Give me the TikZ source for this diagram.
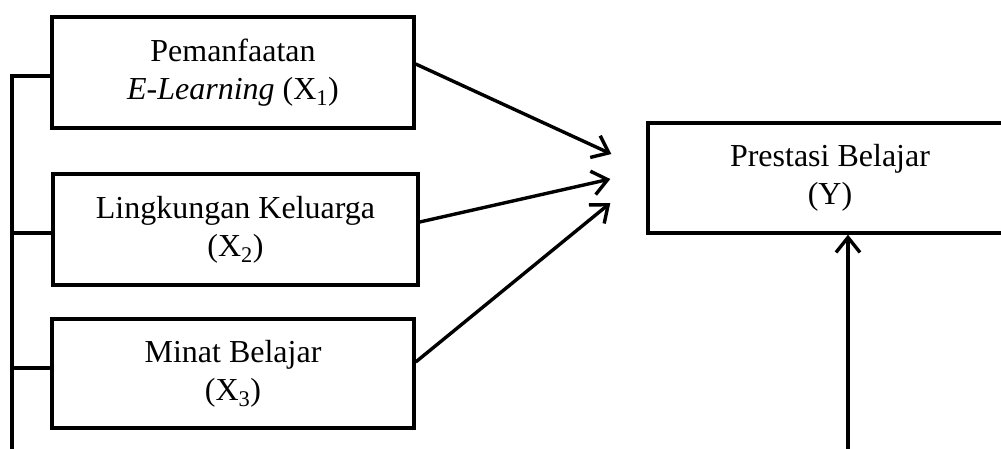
\documentclass[tikz,border=0pt]{standalone}
\usepackage{fontspec}
\setmainfont{Liberation Serif}
\usetikzlibrary{arrows.meta}
\tikzset{
  varbox/.style={draw, line width=3.4pt, rectangle, align=center, inner sep=0pt,
    font=\fontsize{32}{38}\selectfont},
  link/.style={line width=3.4pt},
  arr/.style={line width=3.4pt, -{Straight Barb[length=15pt,width=24pt,line width=3.4pt]}}
}
\begin{document}
\begin{tikzpicture}[x=1pt,y=-1pt]
\useasboundingbox (0,0) rectangle (1001,448);
\clip (0,0) rectangle (1001,448);

% independent variables
\node[varbox, minimum width=362pt, minimum height=111pt] (X1) at (233,72.5)
  {Pemanfaatan\\\textit{E-Learning} (X\textsubscript{1})};
\node[varbox, minimum width=365pt, minimum height=111pt] (X2) at (235.5,229.5)
  {Lingkungan Keluarga\\(X\textsubscript{2})};
\node[varbox, minimum width=362pt, minimum height=109pt] (X3) at (233,373.5)
  {Minat Belajar\\(X\textsubscript{3})};

% dependent variable
\node[varbox, minimum width=364pt, minimum height=110pt] (Y) at (830,178)
  {Prestasi Belajar\\(Y)};

% left bus joining the three predictors, running off the bottom
\coordinate (busBottom) at (12,452);
\draw[link] (X1.west |- {(0,76)}) -| (busBottom);
\draw[link] (X2.west |- {(0,233)}) -- (busBottom |- {(0,233)});
\draw[link] (X3.west |- {(0,368)}) -- (busBottom |- {(0,368)});

% arrows into Y
\coordinate (s1) at (X1.east |- {(0,64)});
\coordinate (s2) at (X2.east |- {(0,222)});
\coordinate (s3) at (X3.east |- {(0,362)});
\coordinate (t1) at ([shift={(-35,-24)}]Y.west);
\coordinate (t2) at ([shift={(-36,1)}]Y.west);
\coordinate (t3) at ([shift={(-36,25)}]Y.west);
\draw[arr] (s1) -- (t1);
\draw[arr] (s2) -- (t2);
\draw[arr] (s3) -- (t3);

% arrow rising from below into Y
\coordinate (yBottom) at (848,452);
\draw[arr] (yBottom) -- (yBottom |- Y.south);
\end{tikzpicture}
\end{document}
